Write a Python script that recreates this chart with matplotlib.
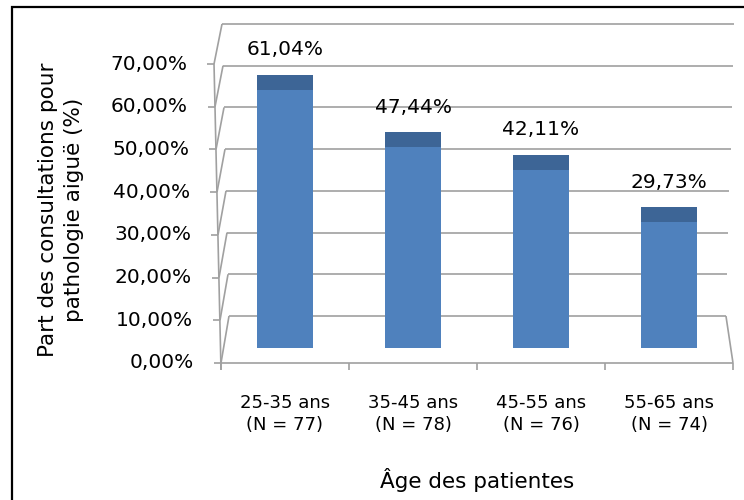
import matplotlib.pyplot as plt
from matplotlib.patches import Rectangle
import numpy as np

categories = ['25-35 ans\n(N = 77)', '35-45 ans\n(N = 78)', '45-55 ans\n(N = 76)', '55-65 ans\n(N = 74)']
values = [0.6104, 0.4744, 0.4211, 0.2973]
value_labels = ['61,04%', '47,44%', '42,11%', '29,73%']
y_ticks = [0.0, 0.1, 0.2, 0.3, 0.4, 0.5, 0.6, 0.7]
y_tick_labels = ['0,00%', '10,00%', '20,00%', '30,00%', '40,00%', '50,00%', '60,00%', '70,00%']

bar_color = '#4F81BD'
cap_color = '#3D6596'
grid_color = '#A0A0A0'

fig = plt.figure(figsize=(7.44, 5), dpi=100)

# front plane of the fake 3d box (ticks, floor edge)
ax = fig.add_axes([221 / 744, 137 / 500, 512 / 744, 299 / 500])
ax.set_xlim(-0.5, 3.5)
ax.set_ylim(0, 0.7)
ax.axis('off')


# where the back wall sits compared to the front plane (data units of ax)
def front_x(v):
    return -0.5 - 0.078 * v


def back_y(v):
    return 0.110 + 0.9766 * v


def back_left(v):
    return -0.4375 - 0.078 * v


def back_right(v):
    return 3.445 + 0.089 * v


line_kw = dict(color=grid_color, lw=1.2, clip_on=False, solid_capstyle='butt')

for v, lab in zip(y_ticks, y_tick_labels):
    ax.plot([back_left(v), back_right(v)], [back_y(v), back_y(v)], **line_kw)
    ax.plot([front_x(v), back_left(v)], [v, back_y(v)], **line_kw)
    ax.plot([front_x(v) - 0.055, front_x(v)], [v, v], **line_kw)
    ax.annotate(lab, (front_x(v), v), xytext=(-27, 0), textcoords='offset pixels',
                ha='right', va='center', fontsize=14.5, annotation_clip=False)

# front vertical axis, floor front edge, right side of floor
ax.plot([front_x(0), front_x(0.7)], [-0.016, 0.7], **line_kw)
ax.plot([-0.5, 3.5], [0, 0], **line_kw)
ax.plot([3.5, back_right(0)], [0, back_y(0)], **line_kw)
for b in np.arange(-0.5, len(categories)):
    ax.plot([b, b], [0, -0.016], **line_kw)

for i, cat in enumerate(categories):
    ax.annotate(cat, (i, 0), xytext=(0, -51), textcoords='offset pixels',
                ha='center', va='center', fontsize=13, linespacing=1.3,
                multialignment='center', annotation_clip=False)

ax.annotate('Âge des patientes', (1.5, 0), xytext=(0, -117), textcoords='offset pixels',
            ha='center', va='center', fontsize=15.5, annotation_clip=False)

fig.text(61 / 744, 1 - 210 / 500, 'Part des consultations pour\npathologie aiguë (%)',
         rotation=90, ha='center', va='center', fontsize=15.5, linespacing=1.4,
         multialignment='center')

# bars sit in the middle of the box depth
axb = fig.add_axes([221 / 744, 152 / 500, 512 / 744, 296 / 500])
axb.set_xlim(-0.5, 3.5)
axb.set_ylim(0, 0.7)
axb.axis('off')

x = np.arange(len(values))
axb.bar(x, values, width=0.43, color=bar_color)
axb.bar(x, 0.036, bottom=values, width=0.43, color=cap_color)
for xi, v, lab in zip(x, values, value_labels):
    axb.annotate(lab, (xi, v), xytext=(0, 40), textcoords='offset pixels',
                 ha='center', va='center', fontsize=14.5, annotation_clip=False)

fig.add_artist(Rectangle((12 / 744, -0.1), 1.0, 1.086, transform=fig.transFigure,
                         fill=False, ec='black', lw=1.6))

fig.savefig('out.png', dpi=100)
